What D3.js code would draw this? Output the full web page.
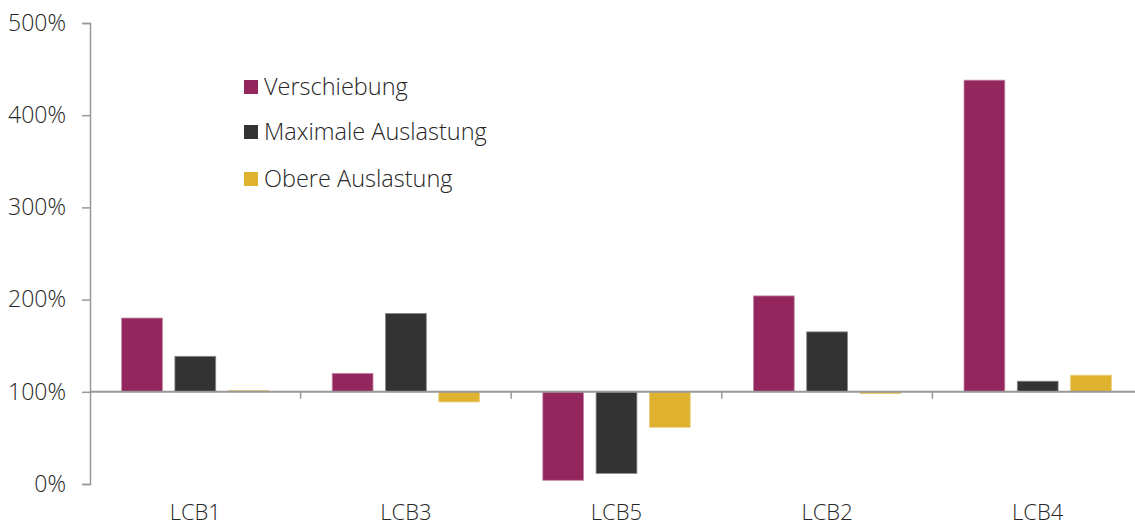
<!DOCTYPE html>
<html>
<head>
<meta charset="utf-8">
<script src="https://cdn.jsdelivr.net/npm/d3@7"></script>
<style>
  body { margin: 0; background: #fff; }
  text { font-family: 'Open Sans', sans-serif; font-weight: 300; fill: #262626; }
</style>
</head>
<body>
<svg id="chart" width="1135" height="527"></svg>
<script>
const categories = ['LCB1', 'LCB3', 'LCB5', 'LCB2', 'LCB4'];
const seriesNames = ['Verschiebung', 'Maximale Auslastung', 'Obere Auslastung'];
const verschiebung = [180, 120, 4, 204, 438];
const maxAuslastung = [138.5, 185, 11.5, 165, 111.5];
const obereAuslastung = [101.5, 89, 61.5, 98, 118];
const yTicks = [0, 100, 200, 300, 400, 500];
const colors = ['#93265c', '#333333', '#dfb32f'];
const strokes = ['#c98aa8', '#8a8a8a', '#e9cf7f'];

const values = [verschiebung, maxAuslastung, obereAuslastung];
const rows = categories.map((c, i) => ({
    cat: c,
    vals: seriesNames.map((s, j) => ({ key: s, idx: j, v: values[j][i] }))
}));

const svg = d3.select('#chart');
const baseline = 100;

const x0 = d3.scaleBand().domain(categories).range([90, 1143]).padding(0);
const x1 = d3.scaleBand().domain(seriesNames).range([0, x0.bandwidth()])
    .paddingInner(0.234).paddingOuter(0.593);
const y = d3.scaleLinear().domain([0, 500]).range([484, 23]);

// bars
const groups = svg.append('g').selectAll('g')
    .data(rows)
    .join('g')
    .attr('transform', d => `translate(${x0(d.cat)},0)`);

groups.selectAll('rect')
    .data(d => d.vals)
    .join('rect')
    .attr('x', d => x1(d.key))
    .attr('width', x1.bandwidth())
    .attr('y', d => y(Math.max(d.v, baseline)))
    .attr('height', d => Math.abs(y(d.v) - y(baseline)))
    .attr('fill', d => colors[d.idx])
    .attr('stroke', d => strokes[d.idx])
    .attr('stroke-width', 0.8);

// y axis
const yAxis = svg.append('g')
    .attr('transform', 'translate(90,0)')
    .call(d3.axisLeft(y).tickValues(yTicks).tickSize(8).tickPadding(16)
        .tickFormat(d => d + '%'));
yAxis.select('.domain').attr('stroke', '#999').attr('stroke-width', 1.5);
yAxis.selectAll('.tick line').attr('stroke', '#999').attr('stroke-width', 1.5);
yAxis.selectAll('.tick text').attr('font-size', 23).attr('fill', '#262626')
    .style('font-family', "'Open Sans', sans-serif").style('font-weight', 300);

// x baseline at 100%
svg.append('line')
    .attr('x1', 90).attr('x2', 1135)
    .attr('y1', y(baseline)).attr('y2', y(baseline))
    .attr('stroke', '#999').attr('stroke-width', 2);

svg.append('g').selectAll('line')
    .data(categories.slice(1))
    .join('line')
    .attr('x1', d => x0(d)).attr('x2', d => x0(d))
    .attr('y1', y(baseline)).attr('y2', y(baseline) + 7)
    .attr('stroke', '#999').attr('stroke-width', 1.5);

// category labels
svg.append('g').selectAll('text')
    .data(categories)
    .join('text')
    .attr('x', d => x0(d) + x0.bandwidth() / 2)
    .attr('y', 520)
    .attr('text-anchor', 'middle')
    .attr('font-size', 22)
    .text(d => d);

// legend
const legend = svg.append('g').attr('transform', 'translate(244,0)');
const legendY = [87, 132, 179];
seriesNames.forEach((s, i) => {
    legend.append('rect')
        .attr('x', 0).attr('y', legendY[i] - 7)
        .attr('width', 14).attr('height', 14)
        .attr('fill', colors[i]);
    legend.append('text')
        .attr('x', 20).attr('y', legendY[i])
        .attr('dy', '0.35em')
        .attr('font-size', 23.5)
        .text(s);
});
</script>
</body>
</html>
